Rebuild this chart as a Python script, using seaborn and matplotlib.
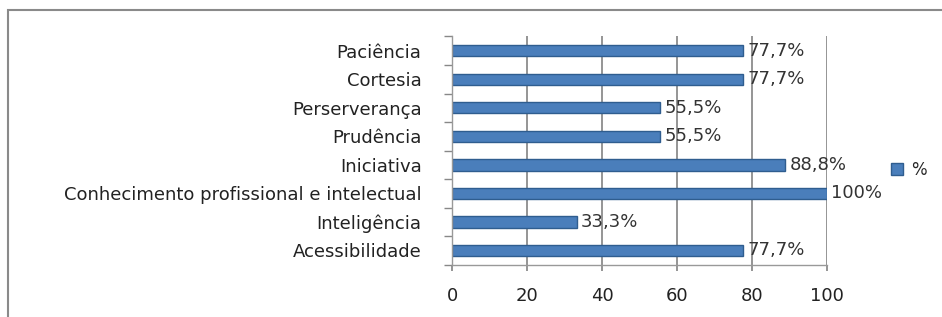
import matplotlib
matplotlib.use("Agg")
import matplotlib.pyplot as plt
import numpy as np
import pandas as pd
import seaborn as sns
from matplotlib.patches import Rectangle, Patch

sns.set_theme(style="white")
plt.rcParams["font.family"] = ["DejaVu Sans"]

categories = [
    "Paciência",
    "Cortesia",
    "Perserverança",
    "Prudência",
    "Iniciativa",
    "Conhecimento profissional e intelectual",
    "Inteligência",
    "Acessibilidade",
]
values = [77.7, 77.7, 55.5, 55.5, 88.8, 100, 33.3, 77.7]
value_labels = ["77,7%", "77,7%", "55,5%", "55,5%", "88,8%", "100%", "33,3%", "77,7%"]
x_ticks = [0, 20, 40, 60, 80, 100]

df = pd.DataFrame({"categoria": categories, "valor": values})

fig = plt.figure(figsize=(9.42, 3.17), dpi=100)
ax = fig.add_axes([0.48, 0.165, 0.398, 0.72])

sns.barplot(data=df, y="categoria", x="valor", orient="h", ax=ax,
            color="#4A7EBB", width=0.4, edgecolor="#2F5D8F", linewidth=1.0,
            saturation=1)

ax.set_xlim(0, 100)
ax.set_ylim(len(categories) - 0.5, -0.5)
ax.set_xticks(x_ticks)
ax.set_xticklabels([str(t) for t in x_ticks], fontsize=13, color="#222222")
ax.tick_params(axis="x", length=4, pad=12, color="#888888", direction="out", bottom=True)
ax.tick_params(axis="y", length=0, pad=22, labelsize=13, labelcolor="#222222")
ax.set_yticks(np.arange(len(categories) + 1) - 0.5, minor=True)
ax.tick_params(axis="y", which="minor", length=6, color="#888888", direction="out", left=True)
ax.set_xlabel("")
ax.set_ylabel("")
ax.grid(True, axis="x", color="#8C8C8C", linewidth=1.3)
ax.set_axisbelow(True)

for side in ["top", "right"]:
    ax.spines[side].set_visible(False)
for side in ["left", "bottom"]:
    ax.spines[side].set_color("#999999")
    ax.spines[side].set_linewidth(1.0)

ax.bar_label(ax.containers[0], labels=value_labels, padding=3,
             fontsize=13, color="#333333")

fig.legend(handles=[Patch(facecolor="#4A7EBB", edgecolor="#2F5D8F", label="%")],
           loc="center left", bbox_to_anchor=(0.93, 0.465), frameon=False,
           fontsize=12, handlelength=0.7, handleheight=0.7, handletextpad=0.5)

fig.patches.append(Rectangle((0.009, -0.01), 1.0, 0.978, transform=fig.transFigure,
                             fill=False, edgecolor="#8A8A8A", linewidth=1.5))

fig.savefig("out.png", dpi=100)
